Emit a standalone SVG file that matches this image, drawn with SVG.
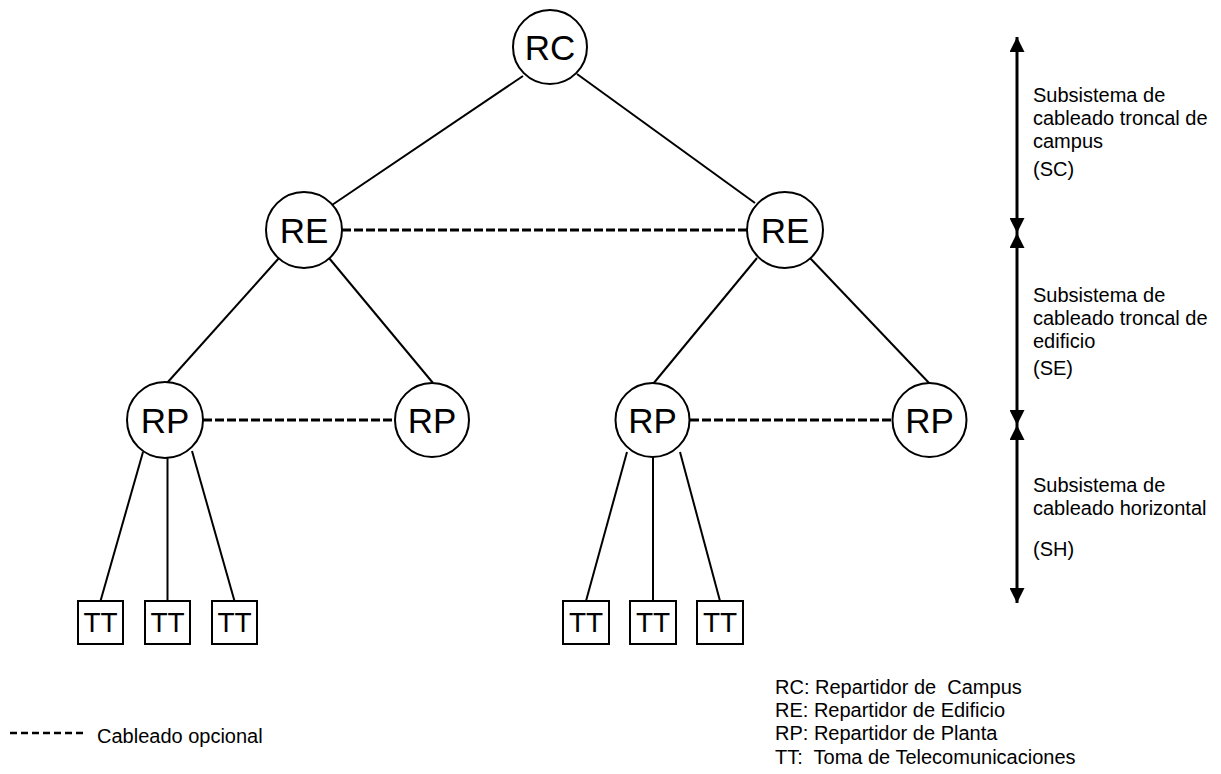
<svg xmlns="http://www.w3.org/2000/svg" width="1221" height="774" viewBox="0 0 1221 774">
<defs>
<style>
.n{fill:#fff;stroke:#000;stroke-width:2}
.l{stroke:#000;stroke-width:2;fill:none}
.d{stroke:#000;stroke-width:3;stroke-dasharray:9 3;fill:none}
.big{font-family:"Liberation Sans",Arial,sans-serif;font-size:35px;text-anchor:middle;fill:#000}
.tt{font-family:"Liberation Sans",Arial,sans-serif;font-size:28px;text-anchor:middle;fill:#000}
.t{font-family:"Liberation Sans",Arial,sans-serif;font-size:20px;fill:#000;white-space:pre}
.ax{stroke:#000;stroke-width:3;fill:none}
</style>
<marker id="ah" viewBox="0 0 10 10" refX="10" refY="5" markerWidth="5" markerHeight="5" orient="auto-start-reverse" markerUnits="strokeWidth">
<path d="M0,0 L10,5 L0,10 z" fill="#000"/>
</marker>
</defs>
<rect width="1221" height="774" fill="#fff"/>
<g id="connectors">
<line class="l" x1="523" y1="76" x2="332" y2="205"/>
<line class="l" x1="577" y1="74" x2="755" y2="203"/>
<line class="l" x1="279" y1="258" x2="167" y2="383"/>
<line class="l" x1="329" y1="258" x2="433" y2="383"/>
<line class="l" x1="757" y1="258" x2="653" y2="384"/>
<line class="l" x1="810" y1="258" x2="930" y2="384"/>
<line class="l" x1="143" y1="452" x2="100.5" y2="601"/>
<line class="l" x1="167.5" y1="457" x2="167.5" y2="601"/>
<line class="l" x1="192" y1="451" x2="234.5" y2="601"/>
<line class="l" x1="627" y1="452" x2="586" y2="601"/>
<line class="l" x1="653" y1="457" x2="653" y2="601"/>
<line class="l" x1="680" y1="452" x2="720" y2="601"/>
<line class="d" x1="342" y1="230" x2="747" y2="230"/>
<line class="d" x1="203" y1="420" x2="395" y2="420"/>
<line class="d" x1="690" y1="420" x2="892" y2="420"/>
</g>
<g id="RC"><circle class="n" cx="550" cy="47" r="37"/><text class="big" x="550" y="59.5">RC</text></g>
<g id="RE1"><circle class="n" cx="304" cy="230" r="38"/><text class="big" x="304" y="242.5">RE</text></g>
<g id="RE2"><circle class="n" cx="785" cy="230" r="38"/><text class="big" x="785" y="242.5">RE</text></g>
<g id="RP1"><circle class="n" cx="165" cy="420" r="38"/><text class="big" x="165" y="432.5">RP</text></g>
<g id="RP2"><circle class="n" cx="432" cy="420" r="37"/><text class="big" x="432" y="432.5">RP</text></g>
<g id="RP3"><circle class="n" cx="652.5" cy="420" r="37"/><text class="big" x="652.5" y="432.5">RP</text></g>
<g id="RP4"><circle class="n" cx="929.5" cy="420" r="37"/><text class="big" x="929.5" y="432.5">RP</text></g>
<g id="TT1"><rect class="n" x="78" y="601" width="45" height="43"/><text class="tt" x="100.5" y="632">TT</text></g>
<g id="TT2"><rect class="n" x="145" y="601" width="45" height="43"/><text class="tt" x="167.5" y="632">TT</text></g>
<g id="TT3"><rect class="n" x="212" y="601" width="45" height="43"/><text class="tt" x="234.5" y="632">TT</text></g>
<g id="TT4"><rect class="n" x="563" y="601" width="46" height="43"/><text class="tt" x="586" y="632">TT</text></g>
<g id="TT5"><rect class="n" x="630" y="601" width="46" height="43"/><text class="tt" x="653" y="632">TT</text></g>
<g id="TT6"><rect class="n" x="697" y="601" width="46" height="43"/><text class="tt" x="720" y="632">TT</text></g>
<g id="scale">
<line class="ax" x1="1017" y1="233" x2="1017" y2="37" marker-end="url(#ah)" marker-start="url(#ah)"/>
<line class="ax" x1="1017" y1="233" x2="1017" y2="425" marker-end="url(#ah)" marker-start="url(#ah)"/>
<line class="ax" x1="1017" y1="425" x2="1017" y2="603" marker-end="url(#ah)" marker-start="url(#ah)"/>
</g>
<g id="labels">
<text class="t" x="1033" y="102">Subsistema de</text>
<text class="t" x="1033" y="125">cableado troncal de</text>
<text class="t" x="1033" y="148">campus</text>
<text class="t" x="1033" y="176">(SC)</text>
<text class="t" x="1033" y="302">Subsistema de</text>
<text class="t" x="1033" y="325">cableado troncal de</text>
<text class="t" x="1033" y="348">edificio</text>
<text class="t" x="1033" y="375">(SE)</text>
<text class="t" x="1033" y="492">Subsistema de</text>
<text class="t" x="1033" y="515">cableado horizontal</text>
<text class="t" x="1033" y="556">(SH)</text>
</g>
<g id="legend">
<line x1="10" y1="733" x2="86" y2="733" stroke="#000" stroke-width="2.5" stroke-dasharray="7 4"/>
<text class="t" x="97" y="743">Cableado opcional</text>
<text class="t" x="775" y="694">RC: Repartidor de  Campus</text>
<text class="t" x="775" y="717">RE: Repartidor de Edificio</text>
<text class="t" x="775" y="740">RP: Repartidor de Planta</text>
<text class="t" x="775" y="764">TT:  Toma de Telecomunicaciones</text>
</g>
</svg>
